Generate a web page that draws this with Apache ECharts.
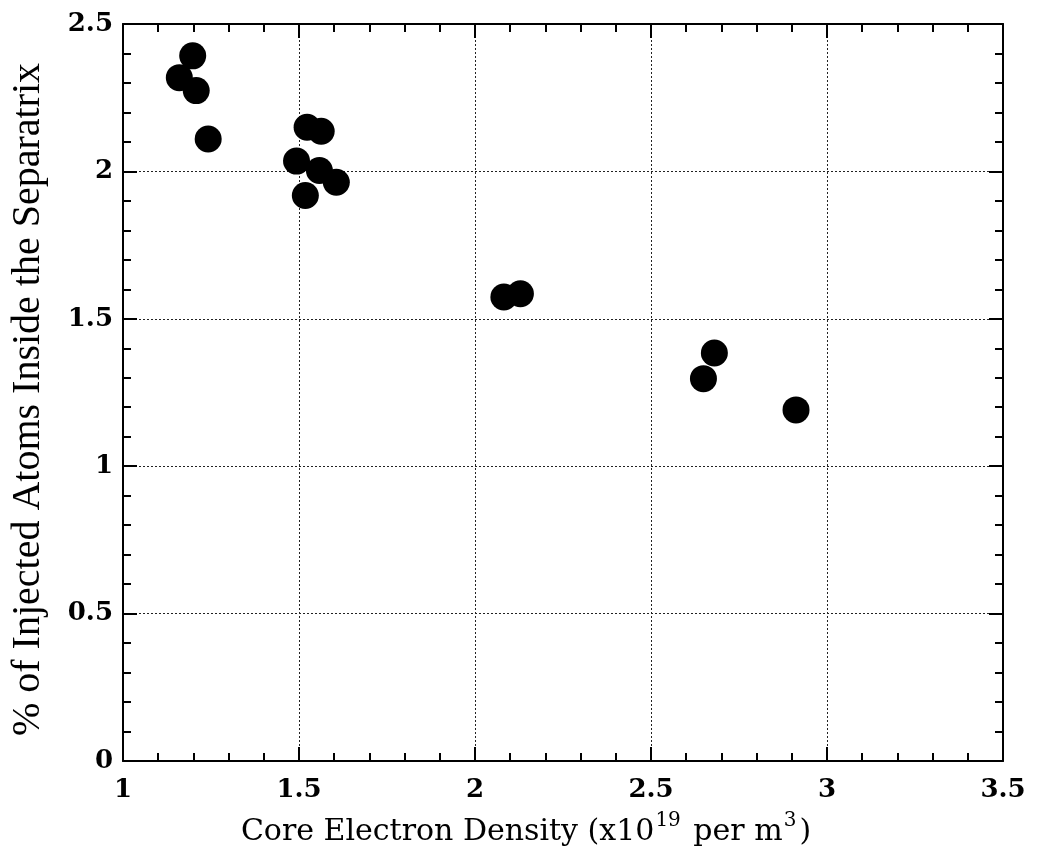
<!DOCTYPE html>
<html>
<head>
<meta charset="utf-8">
<script src="https://cdn.jsdelivr.net/npm/echarts@6/dist/echarts.min.js"></script>
<style>html,body{margin:0;padding:0;background:#fff}#c{width:1041px;height:856px}</style>
</head>
<body>
<div id="c"></div>
<script>
const density = [1.198, 1.160, 1.208, 1.242, 1.523, 1.563, 1.493, 1.558, 1.606, 1.518, 2.082, 2.129, 2.680, 2.649, 2.912];
const percentInside = [2.392, 2.318, 2.274, 2.110, 2.150, 2.136, 2.035, 2.003, 1.963, 1.918, 1.574, 1.585, 1.384, 1.297, 1.191];
const xTitle = "Core Electron Density";
const yTitle = "% of Injected Atoms Inside the Separatrix";

const points = density.map((d, i) => [d, percentInside[i]]);
const serif = "'DejaVu Serif', 'Liberation Serif', serif";

const baseAxis = {
  axisLine: { show: true, onZero: false, lineStyle: { color: '#000', width: 2 } },
  axisTick: { show: true, inside: true, length: 14, lineStyle: { color: '#000', width: 2 } },
  minorTick: { show: true, splitNumber: 5, length: 8, lineStyle: { color: '#000', width: 2 } },
};

const chart = echarts.init(document.getElementById('c'), null, { renderer: 'canvas' });
chart.setOption({
  animation: false,
  backgroundColor: '#fff',
  grid: { left: 123, right: 38, top: 24, bottom: 95, containLabel: false, outerBoundsMode: 'none' },
  xAxis: [
    Object.assign({}, baseAxis, {
      type: 'value', min: 1, max: 3.5, interval: 0.5, position: 'bottom',
      axisLabel: { color: '#000', fontFamily: serif, fontSize: 26, fontWeight: 'bold', margin: 16 },
      splitLine: { show: true, lineStyle: { color: '#222', type: [2, 2], width: 1 } },
      name: '{t|' + xTitle + ' (x10}{s|19}{t| per m}{s|3}{t|)}',
      nameLocation: 'middle', nameGap: 50,
      nameTextStyle: {
        padding: [0, 74, 0, 0],
        rich: {
          t: { fontFamily: serif, fontSize: 30, color: '#000', verticalAlign: 'bottom', lineHeight: 36 },
          s: { fontFamily: serif, fontSize: 20, color: '#000', verticalAlign: 'top', padding: [0, 3, 16, 1], lineHeight: 36 }
        }
      }
    }),
    Object.assign({}, baseAxis, {
      type: 'value', min: 1, max: 3.5, interval: 0.5, position: 'top',
      axisLabel: { show: false }, splitLine: { show: false }
    })
  ],
  yAxis: [
    Object.assign({}, baseAxis, {
      type: 'value', min: 0, max: 2.5, interval: 0.5, position: 'left',
      axisLabel: { color: '#000', fontFamily: serif, fontSize: 26, fontWeight: 'bold', margin: 10 },
      splitLine: { show: true, lineStyle: { color: '#222', type: [2, 2], width: 1 } },
      name: yTitle, nameLocation: 'middle', nameGap: 75,
      nameTextStyle: { fontFamily: "'Liberation Serif', serif", fontSize: 40, color: '#000', padding: [0, 14, 0, 0] }
    }),
    Object.assign({}, baseAxis, {
      type: 'value', min: 0, max: 2.5, interval: 0.5, position: 'right',
      axisLabel: { show: false }, splitLine: { show: false }
    })
  ],
  series: [{
    type: 'scatter', xAxisIndex: 0, yAxisIndex: 0,
    data: points, symbol: 'circle', symbolSize: 27,
    itemStyle: { color: '#000', opacity: 1 }
  }]
});
</script>
</body>
</html>
